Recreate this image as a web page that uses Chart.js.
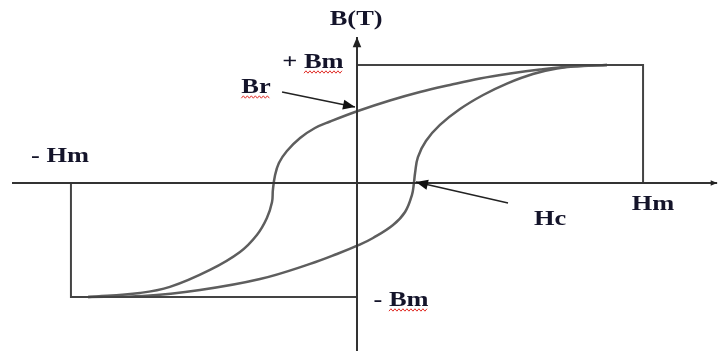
<!DOCTYPE html>
<html>
<head>
<meta charset="utf-8">
<script src="https://cdn.jsdelivr.net/npm/chart.js@4.4.1/dist/chart.umd.min.js"></script>
<style>
  html, body { margin: 0; padding: 0; background: #fff; }
  #wrap { width: 720px; height: 351px; }
</style>
</head>
<body>
<div id="wrap"><canvas id="grafico"></canvas></div>
<script>
// Valores em fracoes de Hm (H) e de Bm (B)
// ramo descendente: de +Bm ate -Bm (passa por Br e -Hc)
const descH = [0.874, 0.755, 0.64, 0.535, 0.43, 0.325, 0.22, 0.115, 0.003, -0.094, -0.147, -0.199, -0.245, -0.273, -0.287, -0.294, -0.297, -0.315, -0.35, -0.409, -0.514, -0.654, -0.759, -0.94];
const descB = [1.0, 0.989, 0.962, 0.928, 0.886, 0.831, 0.771, 0.699, 0.61, 0.521, 0.466, 0.381, 0.271, 0.169, 0.059, -0.059, -0.161, -0.297, -0.441, -0.585, -0.737, -0.881, -0.932, -0.966];
// ramo ascendente: de -Bm ate +Bm (passa por Hc)
const subH = [-0.94, -0.748, -0.549, -0.339, -0.164, -0.07, 0.007, 0.056, 0.126, 0.168, 0.192, 0.199, 0.203, 0.213, 0.241, 0.29, 0.36, 0.441, 0.524, 0.615, 0.699, 0.78, 0.874];
const subB = [-0.966, -0.958, -0.907, -0.814, -0.686, -0.602, -0.525, -0.466, -0.356, -0.246, -0.102, 0, 0.085, 0.22, 0.356, 0.492, 0.627, 0.746, 0.843, 0.924, 0.97, 0.992, 1.0];

const Hm = 1, Bm = 1, BmNeg = -0.966;
const eixoH = [-1.206, 1.259];
const eixoB = [-1.424, 1.237];

// setas de anotacao [inicio, ponta]
const setaBrH = [-0.262, -0.007], setaBrB = [0.771, 0.644];
const setaHcH = [0.528, 0.206], setaHcB = [-0.169, 0.008];

const rotulos = ['B(T)', '+ Bm', 'Br', '- Hm', 'Hm', 'Hc', '- Bm'];
const rotuloH = [-0.003, -0.154, -0.353, -1.038, 1.035, 0.675, 0.154];
const rotuloB = [1.381, 1.017, 0.805, 0.22, -0.186, -0.314, -1.0];
const sublinhado = [false, true, true, false, false, false, true];

const pares = (xs, ys) => xs.map((x, i) => ({ x, y: ys[i] }));

const linha = (data, cor, largura, tensao) => ({
  data, showLine: true, borderColor: cor, borderWidth: largura,
  pointRadius: 0, tension: tensao || 0, fill: false
});

const extras = {
  id: 'extras',
  afterDatasetsDraw(chart) {
    const { ctx, scales: { x, y } } = chart;
    const px = v => x.getPixelForValue(v), py = v => y.getPixelForValue(v);

    function ponta(x0, y0, x1, y1, tam, cor) {
      const ang = Math.atan2(y1 - y0, x1 - x0);
      ctx.save();
      ctx.fillStyle = cor;
      ctx.beginPath();
      ctx.moveTo(x1, y1);
      ctx.lineTo(x1 - tam * Math.cos(ang - 0.4), y1 - tam * Math.sin(ang - 0.4));
      ctx.lineTo(x1 - tam * Math.cos(ang + 0.4), y1 - tam * Math.sin(ang + 0.4));
      ctx.closePath();
      ctx.fill();
      ctx.restore();
    }

    // pontas dos eixos
    ponta(px(0), py(eixoB[0]), px(0), py(eixoB[1]), 11, '#222');
    ponta(px(eixoH[0]), py(0), px(eixoH[1]), py(0), 7, '#222');

    // setas Br e Hc
    [[setaBrH, setaBrB], [setaHcH, setaHcB]].forEach(([hs, bs]) => {
      const x0 = px(hs[0]), y0 = py(bs[0]), x1 = px(hs[1]), y1 = py(bs[1]);
      ctx.save();
      ctx.strokeStyle = '#222';
      ctx.lineWidth = 1.5;
      ctx.beginPath();
      ctx.moveTo(x0, y0);
      ctx.lineTo(x1, y1);
      ctx.stroke();
      ctx.restore();
      ponta(x0, y0, x1, y1, 13, '#111');
    });

    // textos (esticados na horizontal como no original)
    const esticar = 1.32;
    ctx.save();
    ctx.font = 'bold 20px "Liberation Serif", "DejaVu Serif", serif';
    ctx.textBaseline = 'middle';
    ctx.fillStyle = '#14142a';
    rotulos.forEach((txt, i) => {
      const cx = px(rotuloH[i]), cy = py(rotuloB[i]);
      const w = ctx.measureText(txt).width * esticar;
      ctx.save();
      ctx.translate(cx - w / 2, cy);
      ctx.scale(esticar, 1);
      ctx.textAlign = 'left';
      ctx.fillText(txt, 0, 0);
      ctx.restore();
      if (sublinhado[i]) {
        const palavra = txt.split(' ').pop();
        const ww = ctx.measureText(palavra).width * esticar;
        const xa = cx + w / 2 - ww, xb = cx + w / 2;
        const ya = cy + 9;
        ctx.save();
        ctx.strokeStyle = '#e0302a';
        ctx.lineWidth = 1;
        ctx.beginPath();
        for (let k = 0; xa + k * 2 <= xb; k++) {
          const yy = ya + (k % 2 ? -1.2 : 1.2);
          if (k === 0) ctx.moveTo(xa, yy); else ctx.lineTo(xa + k * 2, yy);
        }
        ctx.stroke();
        ctx.restore();
      }
    });
    ctx.restore();
  }
};

new Chart(document.getElementById('grafico'), {
  type: 'scatter',
  data: {
    datasets: [
      linha(pares(eixoH, [0, 0]), '#333', 2),
      linha(pares([0, 0], eixoB), '#333', 2),
      linha(pares([0, Hm, Hm], [Bm, Bm, 0]), '#444', 2),
      linha(pares([0, -Hm, -Hm], [BmNeg, BmNeg, 0]), '#444', 2),
      linha(pares(descH, descB), '#5e5e5e', 2.5, 0.4),
      linha(pares(subH, subB), '#5e5e5e', 2.5, 0.4)
    ]
  },
  options: {
    responsive: true,
    maintainAspectRatio: false,
    animation: false,
    layout: { padding: 0 },
    plugins: { legend: { display: false }, tooltip: { enabled: false } },
    scales: {
      x: { type: 'linear', min: -1.248, max: 1.269, display: false },
      y: { type: 'linear', min: -1.424, max: 1.551, display: false }
    }
  },
  plugins: [extras]
});
</script>
</body>
</html>
